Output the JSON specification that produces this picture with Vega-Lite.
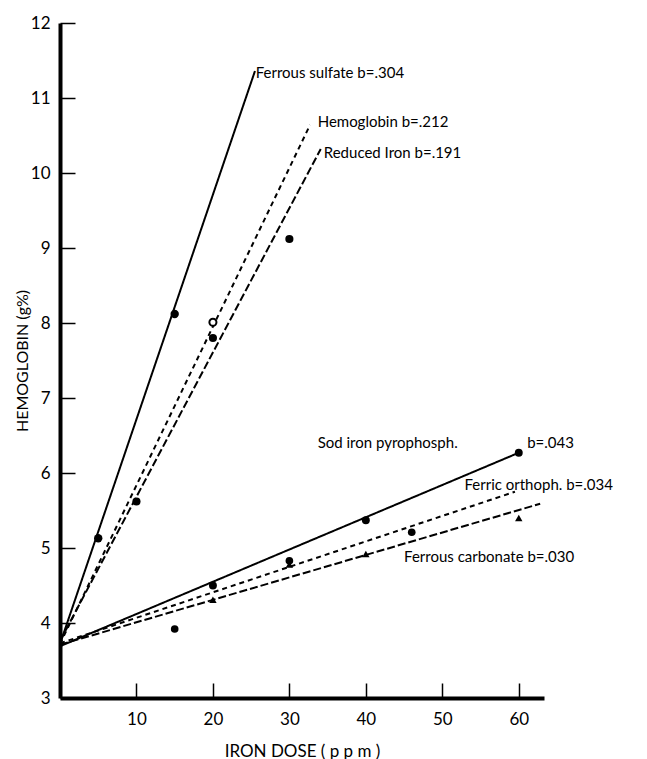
{
  "$schema": "https://vega.github.io/schema/vega-lite/v6.json",
  "width": 484,
  "height": 675,
  "autosize": {"type": "none"},
  "padding": {"left": 60, "top": 23, "right": 103, "bottom": 61},
  "background": "white",
  "config": {
    "view": {"stroke": null},
    "font": "Lato",
    "axis": {"grid": false, "domainColor": "black", "domainWidth": 4, "tickColor": "black", "tickWidth": 1.5, "labelColor": "black", "titleColor": "black", "labelFont": "Lato", "titleFont": "Lato", "labelFontWeight": "normal", "titleFontWeight": "normal", "format": "d"}
  },
  "datasets": {
    "lines": [
      {"series": "Ferrous sulfate", "dose": 0, "hb": 3.72},
      {"series": "Ferrous sulfate", "dose": 25.5, "hb": 11.36},
      {"series": "Hemoglobin", "dose": 0, "hb": 3.72},
      {"series": "Hemoglobin", "dose": 32.7, "hb": 10.64},
      {"series": "Reduced Iron", "dose": 0, "hb": 3.76},
      {"series": "Reduced Iron", "dose": 34.1, "hb": 10.32},
      {"series": "Sod iron pyrophosph.", "dose": 0, "hb": 3.69},
      {"series": "Sod iron pyrophosph.", "dose": 60, "hb": 6.27},
      {"series": "Ferric orthoph.", "dose": 0, "hb": 3.73},
      {"series": "Ferric orthoph.", "dose": 59.5, "hb": 5.75},
      {"series": "Ferrous carbonate", "dose": 0, "hb": 3.71},
      {"series": "Ferrous carbonate", "dose": 62.8, "hb": 5.59}
    ],
    "points": [
      {"series": "Ferrous sulfate", "dose": 5, "hb": 5.13},
      {"series": "Ferrous sulfate", "dose": 15, "hb": 8.12},
      {"series": "Hemoglobin", "dose": 20, "hb": 8.01},
      {"series": "Reduced Iron", "dose": 10, "hb": 5.62},
      {"series": "Reduced Iron", "dose": 20, "hb": 7.80},
      {"series": "Reduced Iron", "dose": 30, "hb": 9.12},
      {"series": "Sod iron pyrophosph.", "dose": 20, "hb": 4.50},
      {"series": "Sod iron pyrophosph.", "dose": 40, "hb": 5.37},
      {"series": "Sod iron pyrophosph.", "dose": 60, "hb": 6.27},
      {"series": "Ferric orthoph.", "dose": 15, "hb": 3.92},
      {"series": "Ferric orthoph.", "dose": 30, "hb": 4.83},
      {"series": "Ferric orthoph.", "dose": 46, "hb": 5.21},
      {"series": "Ferrous carbonate", "dose": 20, "hb": 4.31},
      {"series": "Ferrous carbonate", "dose": 30, "hb": 4.78},
      {"series": "Ferrous carbonate", "dose": 40, "hb": 4.92},
      {"series": "Ferrous carbonate", "dose": 60, "hb": 5.40}
    ],
    "labels": [
      {"text": "Ferrous sulfate  b=.304", "dose": 25.6, "hb": 11.33},
      {"text": "Hemoglobin  b=.212", "dose": 33.7, "hb": 10.68},
      {"text": "Reduced Iron  b=.191", "dose": 34.5, "hb": 10.27},
      {"text": "Sod iron pyrophosph.", "dose": 33.7, "hb": 6.4},
      {"text": "b=.043", "dose": 61.1, "hb": 6.4},
      {"text": "Ferric orthoph. b=.034", "dose": 52.9, "hb": 5.84},
      {"text": "Ferrous carbonate  b=.030", "dose": 45, "hb": 4.88}
    ]
  },
  "layer": [
    {
      "data": {"name": "lines"},
      "mark": {"type": "line", "color": "black", "strokeWidth": 2},
      "encoding": {
        "x": {"field": "dose", "type": "quantitative", "scale": {"domain": [0, 63.3], "nice": false},
          "axis": {"title": "IRON  DOSE  ( p p m )", "values": [10, 20, 30, 40, 50, 60], "tickSize": -15, "labelPadding": 28, "labelFontSize": 17, "titleFontSize": 17, "titlePadding": 16}},
        "y": {"field": "hb", "type": "quantitative", "scale": {"domain": [3, 12], "nice": false, "zero": false},
          "axis": {"title": "HEMOGLOBIN  (g%)", "values": [3, 4, 5, 6, 7, 8, 9, 10, 11, 12], "tickSize": -15, "labelPadding": 25, "labelFontSize": 17, "titleFontSize": 16, "titlePadding": 0}},
        "detail": {"field": "series"},
        "strokeDash": {"field": "series", "type": "nominal", "legend": null,
          "scale": {"domain": ["Ferrous sulfate", "Hemoglobin", "Reduced Iron", "Sod iron pyrophosph.", "Ferric orthoph.", "Ferrous carbonate"],
            "range": [[1, 0], [5, 4], [8, 3], [1, 0], [5, 4], [8, 3]]}}
      }
    },
    {
      "data": {"name": "points"},
      "transform": [{"filter": "datum.series !== 'Hemoglobin'"}],
      "mark": {"type": "point", "filled": true, "color": "black", "opacity": 1},
      "encoding": {
        "x": {"field": "dose", "type": "quantitative"},
        "y": {"field": "hb", "type": "quantitative"},
        "shape": {"field": "series", "type": "nominal", "legend": null,
          "scale": {"domain": ["Ferrous sulfate", "Reduced Iron", "Sod iron pyrophosph.", "Ferric orthoph.", "Ferrous carbonate"],
            "range": ["circle", "circle", "circle", "circle", "triangle-up"]}},
        "size": {"field": "series", "type": "nominal", "legend": null,
          "scale": {"domain": ["Ferrous sulfate", "Reduced Iron", "Sod iron pyrophosph.", "Ferric orthoph.", "Ferrous carbonate"],
            "range": [70, 55, 28, 60, 70]}}
      }
    },
    {
      "data": {"name": "points"},
      "transform": [{"filter": "datum.series === 'Hemoglobin'"}],
      "mark": {"type": "point", "filled": false, "shape": "circle", "size": 50, "stroke": "black", "strokeWidth": 2, "fill": "white", "fillOpacity": 1, "opacity": 1},
      "encoding": {
        "x": {"field": "dose", "type": "quantitative"},
        "y": {"field": "hb", "type": "quantitative"}
      }
    },
    {
      "data": {"name": "labels"},
      "mark": {"type": "text", "align": "left", "baseline": "middle", "fontSize": 15, "font": "Lato", "color": "black"},
      "encoding": {
        "x": {"field": "dose", "type": "quantitative"},
        "y": {"field": "hb", "type": "quantitative"},
        "text": {"field": "text"}
      }
    }
  ]
}
